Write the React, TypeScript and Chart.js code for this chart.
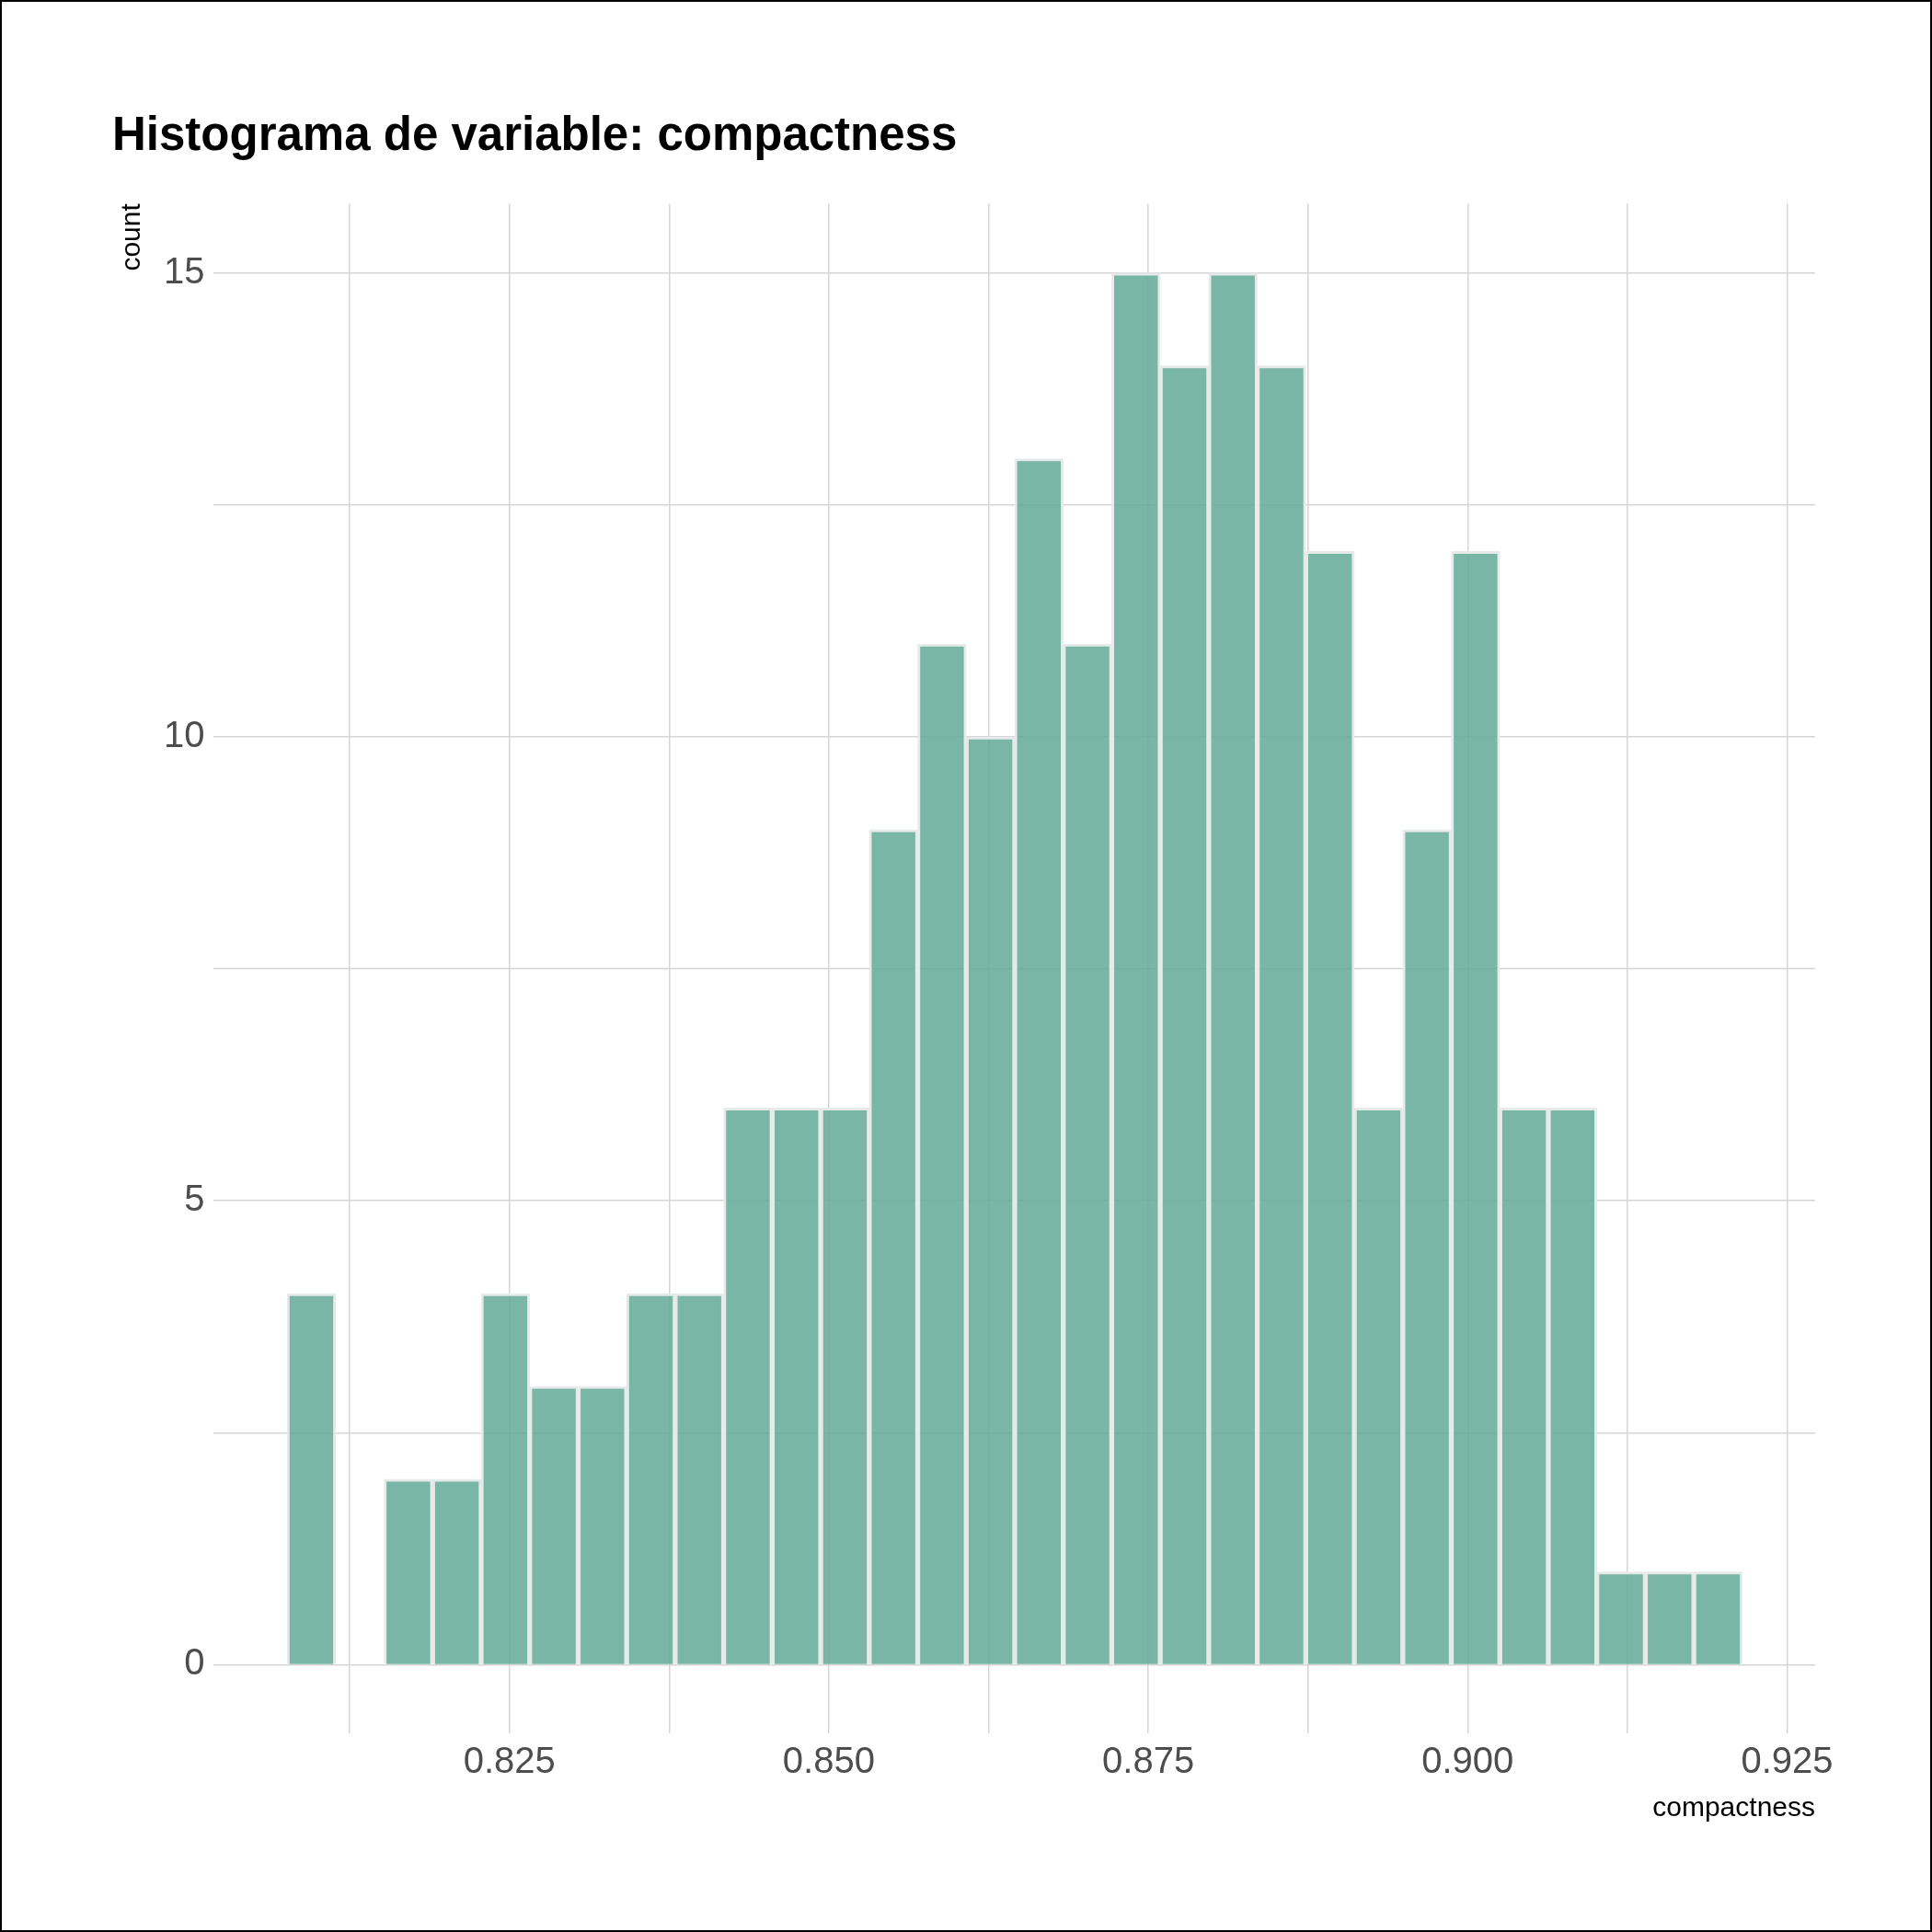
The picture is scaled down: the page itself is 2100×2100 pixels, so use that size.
import { useEffect, useRef } from 'react';
import { Chart, registerables } from 'chart.js';

Chart.register(...registerables);

const binStart = 0.8076;
const binWidth = 0.0037967;
const counts = [4, 0, 2, 2, 4, 3, 3, 4, 4, 6, 6, 6, 9, 11, 10, 13, 11, 15, 14, 15, 14, 12, 6, 9, 12, 6, 6, 1, 1, 1];
const xGrid = [0.8125, 0.825, 0.8375, 0.85, 0.8625, 0.875, 0.8875, 0.9, 0.9125, 0.925];
const xLabels = [0.825, 0.85, 0.875, 0.9, 0.925];
const yGrid = [0, 2.5, 5, 7.5, 10, 12.5, 15];
const yLabels = [0, 5, 10, 15];

const font = "'Liberation Sans Narrow', 'Liberation Sans', sans-serif";

export default function App() {
  const canvasRef = useRef<HTMLCanvasElement>(null);

  useEffect(() => {
    const data = counts.map((c, i) => ({ x: binStart + binWidth * (i + 0.5), y: c }));
    const chart = new Chart(canvasRef.current as HTMLCanvasElement, {
      type: 'bar',
      data: {
        datasets: [
          {
            data,
            backgroundColor: 'rgba(102,172,152,0.88)',
            borderColor: '#e6ebe9',
            borderWidth: 3,
            barPercentage: 1,
            categoryPercentage: 1,
            grouped: false,
          },
        ],
      },
      options: {
        animation: false,
        responsive: false,
        devicePixelRatio: 1,
        layout: { padding: { left: 120, right: 125, top: 40, bottom: 110 } },
        plugins: {
          legend: { display: false },
          tooltip: { enabled: false },
          title: {
            display: true,
            text: 'Histograma de variable: compactness',
            align: 'start',
            color: '#000',
            font: { family: font, size: 51, weight: 'bold' },
            padding: { left: 106, top: 76, bottom: 42 },
          },
        },
        scales: {
          x: {
            type: 'linear',
            min: 0.80187,
            max: 0.9272,
            offset: false,
            afterBuildTicks: (s: any) => {
              s.ticks = xGrid.map((v) => ({ value: v }));
            },
            ticks: {
              autoSkip: false,
              maxRotation: 0,
              color: '#4d4d4d',
              font: { family: font, size: 40 },
              padding: 8,
              callback: (v: any) => (xLabels.some((l) => Math.abs(l - v) < 1e-6) ? Number(v).toFixed(3) : ''),
            },
            grid: { color: '#d6d6d6', lineWidth: 1.5, drawTicks: false, offset: false },
            border: { display: false },
            title: {
              display: true,
              text: 'compactness',
              align: 'end',
              color: '#000',
              font: { family: font, size: 30 },
              padding: { top: 0 },
            },
          },
          y: {
            min: -0.74,
            max: 15.75,
            afterBuildTicks: (s: any) => {
              s.ticks = yGrid.map((v) => ({ value: v }));
            },
            ticks: {
              autoSkip: false,
              color: '#4d4d4d',
              font: { family: font, size: 40 },
              padding: 10,
              callback: (v: any) => (yLabels.includes(Number(v)) ? String(v) : ''),
            },
            grid: { color: '#d6d6d6', lineWidth: 1.5, drawTicks: false },
            border: { display: false },
            title: {
              display: true,
              text: 'count',
              align: 'end',
              color: '#000',
              font: { family: font, size: 30 },
              padding: { bottom: 6 },
            },
          },
        },
      },
    });
    return () => chart.destroy();
  }, []);

  return (
    <div style={{ position: 'absolute', top: 0, left: 0, width: 2100, height: 2100, boxSizing: 'border-box', border: '2px solid #000', background: '#fff' }}>
      <canvas ref={canvasRef} width={2096} height={2096} style={{ display: 'block' }} />
    </div>
  );
}
